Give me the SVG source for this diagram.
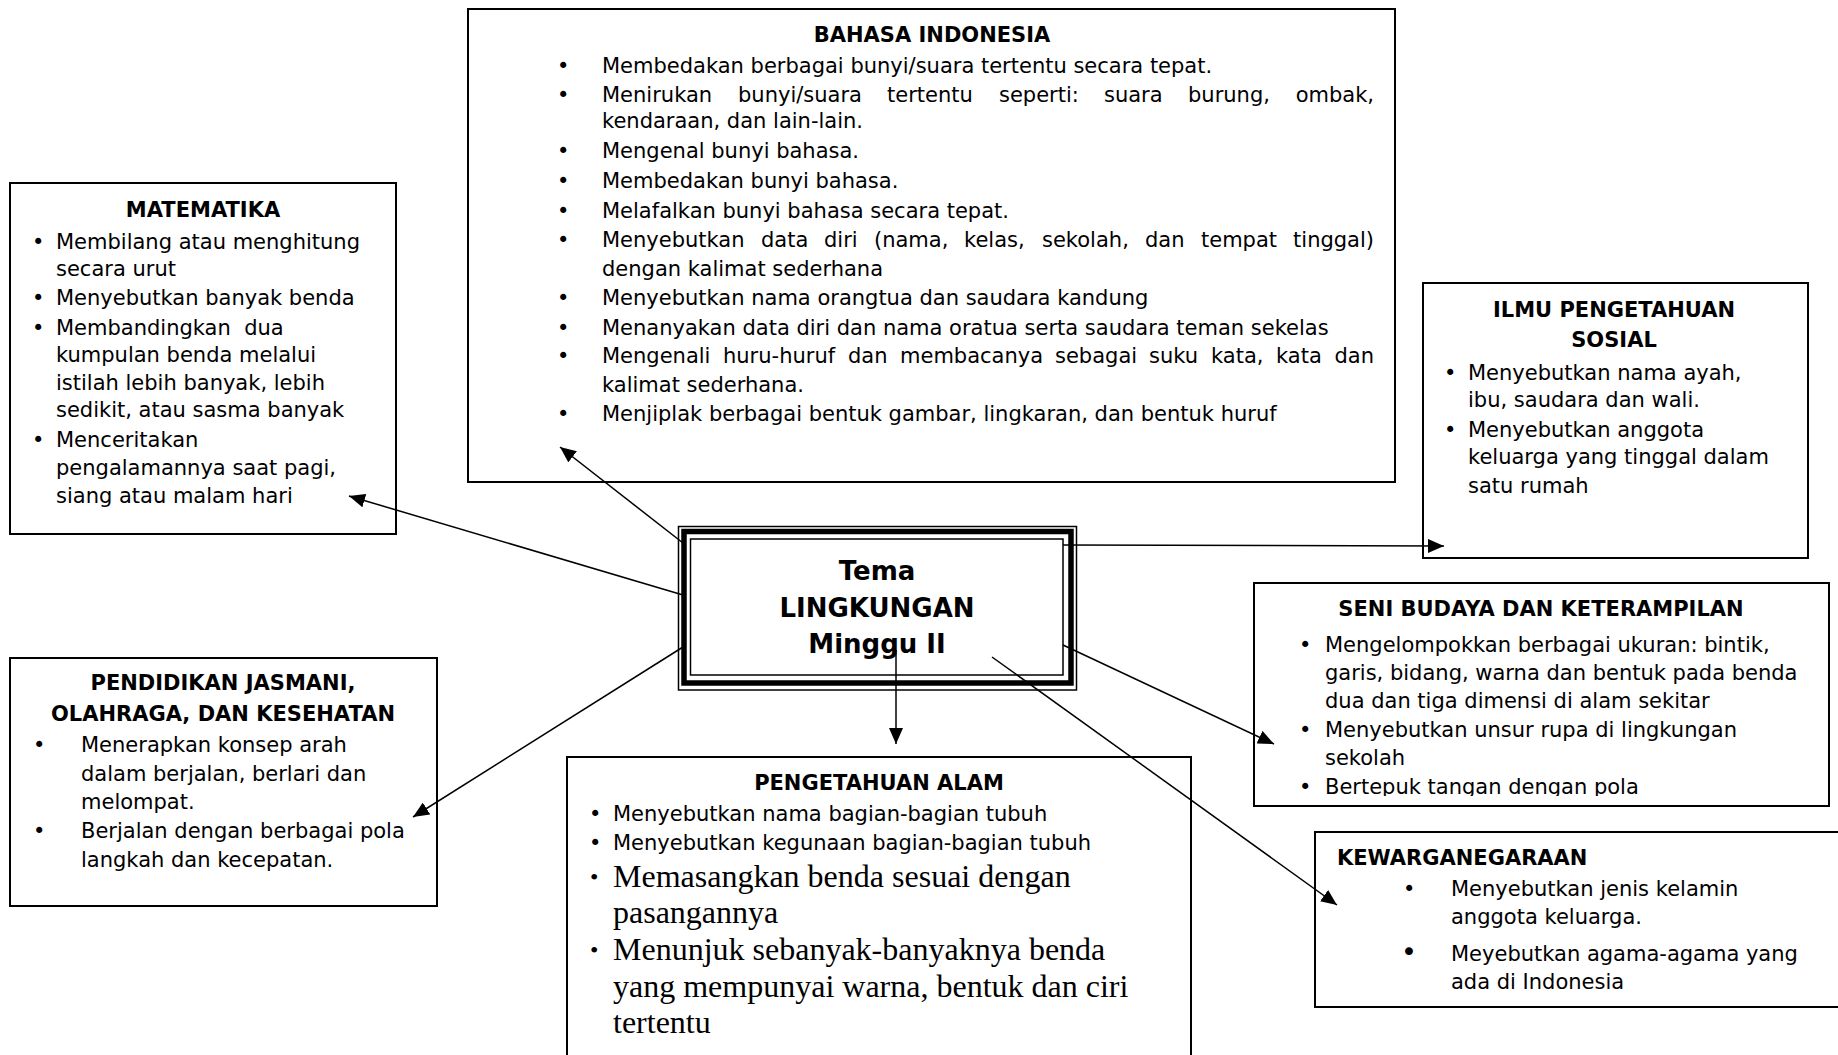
<svg xmlns="http://www.w3.org/2000/svg" width="1838" height="1055" viewBox="0 0 1838 1055">
<style>
  .box { fill:#fff; stroke:#000; stroke-width:2; }
  .t { font-family:"DejaVu Sans", Verdana, sans-serif; font-size:21px; fill:#000; }
  .h { font-family:"DejaVu Sans", Verdana, sans-serif; font-size:21px; font-weight:bold; fill:#000; text-anchor:middle; }
  .s { font-family:"Liberation Serif", "Times New Roman", serif; font-size:32px; fill:#000; }
  .c { font-family:"DejaVu Sans", Verdana, sans-serif; font-size:26px; font-weight:bold; fill:#000; text-anchor:middle; }
  .conn line { stroke:#000; stroke-width:1.5; fill:none; marker-end:url(#arr); }
</style>
<defs>
  <marker id="arr" markerUnits="userSpaceOnUse" markerWidth="17" markerHeight="14" refX="16" refY="7" orient="auto">
    <path d="M0,0 L16,7 L0,14 z" fill="#000"/>
  </marker>
  <clipPath id="seniClip"><rect x="1254" y="583" width="575" height="213"/></clipPath>
</defs>
<rect width="1838" height="1055" fill="#fff"/>

<g id="bahasa-indonesia">
  <rect class="box" x="468" y="9" width="927" height="473"/>
  <text class="h" x="932" y="42">BAHASA INDONESIA</text>
  <g class="t">
    <text x="557" y="73">•</text>
    <text x="557" y="102">•</text>
    <text x="557" y="158">•</text>
    <text x="557" y="188">•</text>
    <text x="557" y="218">•</text>
    <text x="557" y="247">•</text>
    <text x="557" y="305">•</text>
    <text x="557" y="335">•</text>
    <text x="557" y="363">•</text>
    <text x="557" y="421">•</text>
    <text x="602" y="73">Membedakan berbagai bunyi/suara tertentu secara tepat.</text>
    <text y="102"><tspan x="602">Menirukan</tspan><tspan x="738">bunyi/suara</tspan><tspan x="887">tertentu</tspan><tspan x="999">seperti:</tspan><tspan x="1104">suara</tspan><tspan x="1188">burung,</tspan></text>
    <text x="1374" y="102" text-anchor="end">ombak,</text>
    <text x="602" y="128">kendaraan, dan lain-lain.</text>
    <text x="602" y="158">Mengenal bunyi bahasa.</text>
    <text x="602" y="188">Membedakan bunyi bahasa.</text>
    <text x="602" y="218">Melafalkan bunyi bahasa secara tepat.</text>
    <text y="247"><tspan x="602">Menyebutkan</tspan><tspan x="761">data</tspan><tspan x="824">diri</tspan><tspan x="874">(nama,</tspan><tspan x="964">kelas,</tspan><tspan x="1042">sekolah,</tspan><tspan x="1145">dan</tspan><tspan x="1201">tempat</tspan></text>
    <text x="1374" y="247" text-anchor="end">tinggal)</text>
    <text x="602" y="276">dengan kalimat sederhana</text>
    <text x="602" y="305">Menyebutkan nama orangtua dan saudara kandung</text>
    <text x="602" y="335">Menanyakan data diri dan nama oratua serta saudara teman sekelas</text>
    <text y="363"><tspan x="602">Mengenali</tspan><tspan x="723">huru-huruf</tspan><tspan x="848">dan</tspan><tspan x="900">membacanya</tspan><tspan x="1055">sebagai</tspan><tspan x="1149">suku</tspan><tspan x="1211">kata,</tspan><tspan x="1276">kata</tspan></text>
    <text x="1374" y="363" text-anchor="end">dan</text>
    <text x="602" y="392">kalimat sederhana.</text>
    <text x="602" y="421">Menjiplak berbagai bentuk gambar, lingkaran, dan bentuk huruf</text>
  </g>
</g>

<g id="matematika">
  <rect class="box" x="10" y="183" width="386" height="351"/>
  <text class="h" x="203" y="217">MATEMATIKA</text>
  <g class="t">
    <text x="32" y="249">•</text>
    <text x="32" y="305">•</text>
    <text x="32" y="335">•</text>
    <text x="32" y="447">•</text>
    <text x="56" y="249">Membilang atau menghitung</text>
    <text x="56" y="276">secara urut</text>
    <text x="56" y="305">Menyebutkan banyak benda</text>
    <text x="56" y="335" style="white-space:pre">Membandingkan  dua</text>
    <text x="56" y="362">kumpulan benda melalui</text>
    <text x="56" y="390">istilah lebih banyak, lebih</text>
    <text x="56" y="417">sedikit, atau sasma banyak</text>
    <text x="56" y="447">Menceritakan</text>
    <text x="56" y="475">pengalamannya saat pagi,</text>
    <text x="56" y="503">siang atau malam hari</text>
  </g>
</g>

<g id="ilmu-pengetahuan-sosial">
  <rect class="box" x="1423" y="283" width="385" height="275"/>
  <text class="h" x="1614" y="317">ILMU PENGETAHUAN</text>
  <text class="h" x="1614" y="347">SOSIAL</text>
  <g class="t">
    <text x="1444" y="380">•</text>
    <text x="1444" y="437">•</text>
    <text x="1468" y="380">Menyebutkan nama ayah,</text>
    <text x="1468" y="407">ibu, saudara dan wali.</text>
    <text x="1468" y="437">Menyebutkan anggota</text>
    <text x="1468" y="464">keluarga yang tinggal dalam</text>
    <text x="1468" y="493">satu rumah</text>
  </g>
</g>

<g id="seni-budaya">
  <rect class="box" x="1254" y="583" width="575" height="223"/>
  <text class="h" x="1541" y="616">SENI BUDAYA DAN KETERAMPILAN</text>
  <g class="t" clip-path="url(#seniClip)">
    <text x="1299" y="652">•</text>
    <text x="1299" y="737">•</text>
    <text x="1299" y="794">•</text>
    <text x="1325" y="652">Mengelompokkan berbagai ukuran: bintik,</text>
    <text x="1325" y="680">garis, bidang, warna dan bentuk pada benda</text>
    <text x="1325" y="708">dua dan tiga dimensi di alam sekitar</text>
    <text x="1325" y="737">Menyebutkan unsur rupa di lingkungan</text>
    <text x="1325" y="765">sekolah</text>
    <text x="1325" y="794">Bertepuk tangan dengan pola</text>
  </g>
</g>

<g id="pendidikan-jasmani">
  <rect class="box" x="10" y="658" width="427" height="248"/>
  <text class="h" x="223" y="690">PENDIDIKAN JASMANI,</text>
  <text class="h" x="223" y="721">OLAHRAGA, DAN KESEHATAN</text>
  <g class="t">
    <text x="33" y="752">•</text>
    <text x="33" y="838">•</text>
    <text x="81" y="752">Menerapkan konsep arah</text>
    <text x="81" y="781">dalam berjalan, berlari dan</text>
    <text x="81" y="809">melompat.</text>
    <text x="81" y="838">Berjalan dengan berbagai pola</text>
    <text x="81" y="867">langkah dan kecepatan.</text>
  </g>
</g>

<g id="pengetahuan-alam">
  <rect class="box" x="567" y="757" width="624" height="320"/>
  <text class="h" x="879" y="790">PENGETAHUAN ALAM</text>
  <g class="t">
    <text x="589" y="821">•</text>
    <text x="589" y="850">•</text>
    <text x="613" y="821">Menyebutkan nama bagian-bagian tubuh</text>
    <text x="613" y="850">Menyebutkan kegunaan bagian-bagian tubuh</text>
  </g>
  <g class="s">
    <text x="590" y="885" style="font-size:24px">•</text>
    <text x="590" y="958" style="font-size:24px">•</text>
    <text x="613" y="887">Memasangkan benda sesuai dengan</text>
    <text x="613" y="923">pasangannya</text>
    <text x="613" y="960">Menunjuk sebanyak-banyaknya benda</text>
    <text x="613" y="997">yang mempunyai warna, bentuk dan ciri</text>
    <text x="613" y="1033">tertentu</text>
  </g>
</g>

<g id="kewarganegaraan">
  <rect class="box" x="1315" y="832" width="540" height="175"/>
  <text class="h" x="1337" y="865" style="text-anchor:start">KEWARGANEGARAAN</text>
  <g class="t">
    <text x="1403" y="896">•</text>
    <text x="1401" y="961" style="font-size:27px">•</text>
    <text x="1451" y="896">Menyebutkan jenis kelamin</text>
    <text x="1451" y="924">anggota keluarga.</text>
    <text x="1451" y="961">Meyebutkan agama-agama yang</text>
    <text x="1451" y="989">ada di Indonesia</text>
  </g>
</g>

<g id="tema">
  <rect x="678.5" y="526.5" width="398" height="163.5" fill="#fff" stroke="#000" stroke-width="1.5"/>
  <rect x="684" y="531.5" width="387" height="151.5" fill="none" stroke="#000" stroke-width="5.5"/>
  <rect x="690.5" y="539" width="372.5" height="136" fill="none" stroke="#000" stroke-width="1.5"/>
  <text class="c" x="877" y="580">Tema</text>
  <text class="c" x="877" y="617">LINGKUNGAN</text>
  <text class="c" x="877" y="653">Minggu II</text>
</g>

<g id="connectors" class="conn">
  <line x1="683" y1="543" x2="560" y2="447"/>
  <line x1="683" y1="595" x2="349" y2="496"/>
  <line x1="683" y1="647" x2="413" y2="817"/>
  <line x1="896" y1="650" x2="896" y2="744"/>
  <line x1="992" y1="657" x2="1337" y2="905"/>
  <line x1="1063" y1="645" x2="1274" y2="744"/>
  <line x1="1063" y1="545" x2="1444" y2="546"/>
</g>
</svg>
